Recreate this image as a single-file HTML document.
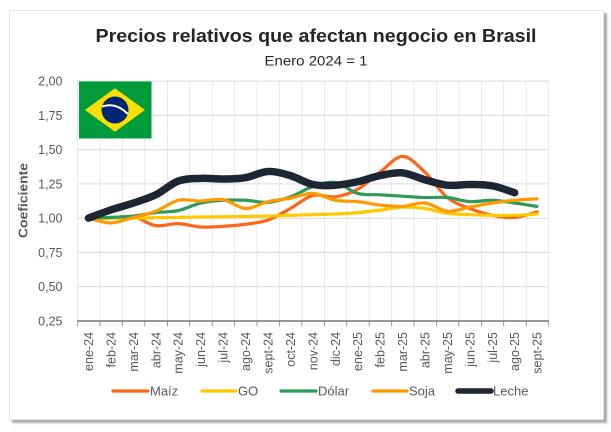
<!DOCTYPE html>
<html>
<head>
<meta charset="utf-8">
<style>
  html,body{margin:0;padding:0;background:#ffffff;}
  body{width:611px;height:432px;position:relative;overflow:hidden;font-family:"Liberation Sans",sans-serif;}
  .card{position:absolute;left:9px;top:10px;width:593px;height:408px;background:#fff;border:1px solid #e3e3e3;box-shadow:3px 3px 2px #a9a9a9;}
  svg{position:absolute;left:0;top:0;}
</style>
</head>
<body>
<div class="card"></div>
<svg width="611" height="432" viewBox="0 0 611 432" xmlns="http://www.w3.org/2000/svg" font-family="Liberation Sans, sans-serif">
  <defs>
    <pattern id="vg" x="77.3" y="0" width="22.4286" height="432" patternUnits="userSpaceOnUse">
      <rect x="-0.5" y="0" width="1.1" height="432" fill="#d9d9d9"/>
    </pattern>
    <pattern id="tk" x="77.3" y="0" width="22.4286" height="432" patternUnits="userSpaceOnUse">
      <rect x="-0.5" y="0" width="1.1" height="432" fill="#595959"/>
    </pattern>
  </defs>

  <!-- title -->
  <text x="316" y="42" text-anchor="middle" font-size="18" font-weight="bold" fill="#262626" textLength="441" lengthAdjust="spacingAndGlyphs">Precios relativos que afectan negocio en Brasil</text>
  <text x="316" y="65.5" text-anchor="middle" font-size="14" fill="#262626" textLength="103" lengthAdjust="spacingAndGlyphs">Enero 2024 = 1</text>

  <!-- gridlines -->
  <rect x="77" y="81" width="472" height="240" fill="url(#vg)"/>
  <g stroke="#d9d9d9" stroke-width="1">
    <line x1="77.3" y1="81.1" x2="548.3" y2="81.1"/>
    <line x1="77.3" y1="115.4" x2="548.3" y2="115.4"/>
    <line x1="77.3" y1="149.7" x2="548.3" y2="149.7"/>
    <line x1="77.3" y1="183.9" x2="548.3" y2="183.9"/>
    <line x1="77.3" y1="218.2" x2="548.3" y2="218.2"/>
    <line x1="77.3" y1="252.5" x2="548.3" y2="252.5"/>
    <line x1="77.3" y1="286.8" x2="548.3" y2="286.8"/>
  </g>
  <!-- axis -->
  <rect x="77" y="320.5" width="472" height="6" fill="url(#tk)"/>
  <line x1="77.3" y1="321" x2="548.6" y2="321" stroke="#595959" stroke-width="1.2"/>

  <!-- y labels -->
  <g font-size="12.5" fill="#595959" text-anchor="end">
    <text x="62.5" y="85.5">2,00</text>
    <text x="62.5" y="119.8">1,75</text>
    <text x="62.5" y="154.1">1,50</text>
    <text x="62.5" y="188.3">1,25</text>
    <text x="62.5" y="222.6">1,00</text>
    <text x="62.5" y="256.9">0,75</text>
    <text x="62.5" y="291.2">0,50</text>
    <text x="62.5" y="325.5">0,25</text>
  </g>
  <text transform="translate(27.5,200.5) rotate(-90)" text-anchor="middle" font-size="12.5" font-weight="bold" fill="#595959" textLength="75" lengthAdjust="spacingAndGlyphs">Coeficiente</text>

  <!-- x labels -->
  <g font-size="12.5" fill="#595959" text-anchor="end">
    <text transform="translate(93,332) rotate(-90)">ene-24</text>
    <text transform="translate(115.4,332) rotate(-90)">feb-24</text>
    <text transform="translate(137.9,332) rotate(-90)">mar-24</text>
    <text transform="translate(160.3,332) rotate(-90)">abr-24</text>
    <text transform="translate(182.7,332) rotate(-90)">may-24</text>
    <text transform="translate(205.2,332) rotate(-90)">jun-24</text>
    <text transform="translate(227.6,332) rotate(-90)">jul-24</text>
    <text transform="translate(250,332) rotate(-90)">ago-24</text>
    <text transform="translate(272.5,332) rotate(-90)">sept-24</text>
    <text transform="translate(294.9,332) rotate(-90)">oct-24</text>
    <text transform="translate(317.3,332) rotate(-90)">nov-24</text>
    <text transform="translate(339.8,332) rotate(-90)">dic-24</text>
    <text transform="translate(362.2,332) rotate(-90)">ene-25</text>
    <text transform="translate(384.6,332) rotate(-90)">feb-25</text>
    <text transform="translate(407.1,332) rotate(-90)">mar-25</text>
    <text transform="translate(429.5,332) rotate(-90)">abr-25</text>
    <text transform="translate(451.9,332) rotate(-90)">may-25</text>
    <text transform="translate(474.4,332) rotate(-90)">jun-25</text>
    <text transform="translate(496.8,332) rotate(-90)">jul-25</text>
    <text transform="translate(519.2,332) rotate(-90)">ago-25</text>
    <text transform="translate(541.7,332) rotate(-90)">sept-25</text>
  </g>

  <!-- series -->
  <g id="series" fill="none" stroke-linecap="round" stroke-linejoin="round">
    <path id="s0" stroke="#ff6417" stroke-width="3.2"/>
    <path id="s1" stroke="#ffc800" stroke-width="3.2"/>
    <path id="s2" stroke="#2f9a5b" stroke-width="3.2"/>
    <path id="s3" stroke="#ff9a00" stroke-width="3.2"/>
    <path id="s4" stroke="#1f2633" stroke-width="7.5"/>
  </g>

  <!-- flag -->
  <rect x="79" y="81.5" width="72.5" height="57" fill="#009c3b"/>
  <polygon points="85,110 115,88.3 145,110 115,131.7" fill="#ffdf00"/>
  <circle cx="115" cy="110" r="13.5" fill="#002776"/>
  <path d="M102.2,106.5 Q116,102 127.8,114" stroke="#ffffff" stroke-width="2" fill="none"/>

  <!-- legend -->
  <g font-size="13" fill="#595959">
    <line x1="113" y1="391" x2="148" y2="391" stroke="#ff6417" stroke-width="3.2" stroke-linecap="round"/>
    <text x="150" y="395.5">Maíz</text>
    <line x1="202" y1="391" x2="236" y2="391" stroke="#ffc800" stroke-width="3.2" stroke-linecap="round"/>
    <text x="238" y="395.5">GO</text>
    <line x1="281" y1="391" x2="316" y2="391" stroke="#2f9a5b" stroke-width="3.2" stroke-linecap="round"/>
    <text x="318" y="395.5">Dólar</text>
    <line x1="373" y1="391" x2="407" y2="391" stroke="#ff9a00" stroke-width="3.2" stroke-linecap="round"/>
    <text x="409" y="395.5">Soja</text>
    <line x1="458" y1="391" x2="491" y2="391" stroke="#1f2633" stroke-width="5.5" stroke-linecap="round"/>
    <text x="493" y="395.5">Leche</text>
  </g>
</svg>
<script>
(function(){
  var data = [
    [1.00,1.00,1.01,0.945,0.96,0.935,0.94,0.955,0.985,1.07,1.165,1.155,1.21,1.335,1.45,1.335,1.15,1.07,1.02,1.005,1.045],
    [1.00,1.00,1.00,1.003,1.005,1.008,1.01,1.012,1.015,1.02,1.025,1.03,1.04,1.058,1.08,1.07,1.035,1.025,1.02,1.02,1.03],
    [1.00,1.005,1.015,1.04,1.055,1.11,1.13,1.13,1.115,1.155,1.23,1.26,1.18,1.17,1.16,1.15,1.15,1.12,1.13,1.11,1.085],
    [1.00,0.965,1.005,1.05,1.13,1.125,1.135,1.07,1.12,1.145,1.18,1.13,1.12,1.095,1.085,1.11,1.05,1.08,1.11,1.13,1.14],
    [1.00,1.06,1.11,1.17,1.27,1.29,1.285,1.295,1.34,1.31,1.245,1.24,1.265,1.31,1.33,1.28,1.24,1.245,1.235,1.185]
  ];
  function cx(i){return 77.3 + 22.4286*(i+0.5);}
  function yv(v){return 218.1 - (v-1)*137.14;}
  function build(vals){
    var p = vals.map(function(v,i){return [cx(i), yv(v)];});
    var d = "M"+p[0][0].toFixed(2)+","+p[0][1].toFixed(2);
    for(var i=0;i<p.length-1;i++){
      var p0=p[i-1]||p[i], p1=p[i], p2=p[i+1], p3=p[i+2]||p[i+1];
      var c1x=p1[0]+(p2[0]-p0[0])/6, c1y=p1[1]+(p2[1]-p0[1])/6;
      var c2x=p2[0]-(p3[0]-p1[0])/6, c2y=p2[1]-(p3[1]-p1[1])/6;
      d += " C"+c1x.toFixed(2)+","+c1y.toFixed(2)+" "+c2x.toFixed(2)+","+c2y.toFixed(2)+" "+p2[0].toFixed(2)+","+p2[1].toFixed(2);
    }
    return d;
  }
  for(var k=0;k<data.length;k++){
    document.getElementById("s"+k).setAttribute("d", build(data[k]));
  }
})();
</script>
</body>
</html>
